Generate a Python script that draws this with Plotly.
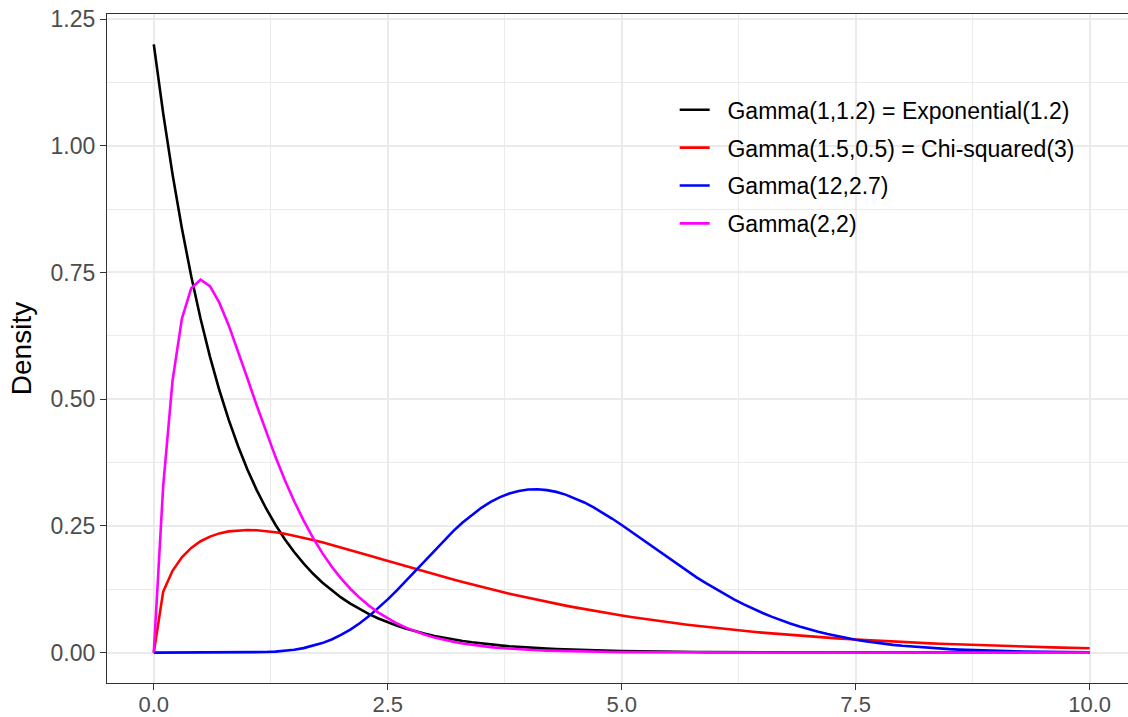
import plotly.graph_objects as go

# Evaluation grid 0.0, 0.1, ..., 10.0
x_vals = [round(i * 0.1, 1) for i in range(101)]

# Gamma(1,1.2) = Exponential(1.2)
dens_exp = [1.2000, 1.0643, 0.9440, 0.8372, 0.7425, 0.6586, 0.5841, 0.5181, 0.4595, 0.4075,
            0.3614, 0.3206, 0.2843, 0.2522, 0.2237, 0.1984, 0.1759, 0.1560, 0.1384, 0.1227,
            0.1089, 0.0966, 0.0856, 0.0760, 0.0674, 0.0597, 0.0530, 0.0470, 0.0417, 0.0370,
            0.0328, 0.0291, 0.0258, 0.0229, 0.0203, 0.0180, 0.0160, 0.0142, 0.0126, 0.0111,
            0.0099, 0.0088, 0.0078, 0.0069, 0.0061, 0.0054, 0.0048, 0.0043, 0.0038, 0.0034,
            0.0030, 0.0026, 0.0023, 0.0021, 0.0018, 0.0016, 0.0014, 0.0013, 0.0011, 0.0010,
            0.0009, 0.0008, 0.0007, 0.0006, 0.0006, 0.0005, 0.0004, 0.0004, 0.0003, 0.0003,
            0.0003, 0.0002, 0.0002, 0.0002, 0.0002, 0.0001, 0.0001, 0.0001, 0.0001, 0.0001,
            0.0001, 0.0, 0.0, 0.0, 0.0, 0.0, 0.0, 0.0, 0.0, 0.0,
            0.0, 0.0, 0.0, 0.0, 0.0, 0.0, 0.0, 0.0, 0.0, 0.0,
            0.0]

# Gamma(1.5,0.5) = Chi-squared(3)
dens_chisq = [0.0, 0.1200, 0.1614, 0.1881, 0.2066, 0.2197, 0.2289, 0.2352, 0.2392, 0.2413,
              0.2420, 0.2414, 0.2398, 0.2375, 0.2344, 0.2308, 0.2267, 0.2223, 0.2176, 0.2127,
              0.2076, 0.2023, 0.1970, 0.1916, 0.1861, 0.1807, 0.1753, 0.1699, 0.1646, 0.1594,
              0.1542, 0.1491, 0.1441, 0.1392, 0.1344, 0.1297, 0.1251, 0.1207, 0.1163, 0.1121,
              0.1080, 0.1040, 0.1001, 0.0964, 0.0927, 0.0892, 0.0858, 0.0825, 0.0793, 0.0762,
              0.0732, 0.0703, 0.0676, 0.0649, 0.0623, 0.0598, 0.0574, 0.0551, 0.0529, 0.0507,
              0.0487, 0.0467, 0.0447, 0.0429, 0.0411, 0.0394, 0.0378, 0.0362, 0.0347, 0.0333,
              0.0319, 0.0305, 0.0292, 0.0280, 0.0268, 0.0257, 0.0246, 0.0236, 0.0226, 0.0216,
              0.0207, 0.0198, 0.0189, 0.0181, 0.0173, 0.0166, 0.0159, 0.0152, 0.0145, 0.0139,
              0.0133, 0.0127, 0.0122, 0.0116, 0.0111, 0.0106, 0.0102, 0.0097, 0.0093, 0.0089,
              0.0085]

# Gamma(12,2.7)
dens_g12 = [0.0, 0.0, 0.0, 0.0, 0.0, 0.0, 0.0, 0.0, 0.0, 0.0001,
            0.0003, 0.0006, 0.0011, 0.0020, 0.0035, 0.0057, 0.0088, 0.0131, 0.0187, 0.0259,
            0.0348, 0.0454, 0.0578, 0.0720, 0.0877, 0.1050, 0.1234, 0.1426, 0.1624, 0.1824,
            0.2022, 0.2214, 0.2396, 0.2566, 0.2720, 0.2857, 0.2973, 0.3068, 0.3140, 0.3190,
            0.3217, 0.3222, 0.3206, 0.3171, 0.3117, 0.3047, 0.2962, 0.2865, 0.2757, 0.2640,
            0.2517, 0.2389, 0.2258, 0.2126, 0.1993, 0.1862, 0.1733, 0.1607, 0.1485, 0.1369,
            0.1257, 0.1151, 0.1050, 0.0956, 0.0868, 0.0786, 0.0710, 0.0639, 0.0574, 0.0515,
            0.0460, 0.0411, 0.0366, 0.0325, 0.0288, 0.0255, 0.0225, 0.0198, 0.0175, 0.0153,
            0.0134, 0.0118, 0.0103, 0.0090, 0.0078, 0.0068, 0.0059, 0.0051, 0.0044, 0.0038,
            0.0033, 0.0028, 0.0024, 0.0021, 0.0018, 0.0016, 0.0013, 0.0011, 0.0010, 0.0008,
            0.0007]

# Gamma(2,2)
dens_g22 = [0.0, 0.3275, 0.5363, 0.6586, 0.7189, 0.7358, 0.7229, 0.6905, 0.6461, 0.5951,
            0.5413, 0.4875, 0.4354, 0.3862, 0.3405, 0.2987, 0.2609, 0.2269, 0.1967, 0.1700,
            0.1465, 0.1260, 0.1080, 0.0925, 0.0790, 0.0674, 0.0574, 0.0488, 0.0414, 0.0351,
            0.0297, 0.0252, 0.0213, 0.0180, 0.0151, 0.0128, 0.0108, 0.0090, 0.0076, 0.0064,
            0.0054, 0.0045, 0.0038, 0.0032, 0.0027, 0.0022, 0.0019, 0.0016, 0.0013, 0.0011,
            0.0009, 0.0008, 0.0006, 0.0005, 0.0004, 0.0004, 0.0003, 0.0003, 0.0002, 0.0002,
            0.0001, 0.0001, 0.0001, 0.0001, 0.0001, 0.0001, 0.0, 0.0, 0.0, 0.0,
            0.0, 0.0, 0.0, 0.0, 0.0, 0.0, 0.0, 0.0, 0.0, 0.0,
            0.0, 0.0, 0.0, 0.0, 0.0, 0.0, 0.0, 0.0, 0.0, 0.0,
            0.0, 0.0, 0.0, 0.0, 0.0, 0.0, 0.0, 0.0, 0.0, 0.0,
            0.0]

series_names = ["Gamma(1,1.2) = Exponential(1.2)",
                "Gamma(1.5,0.5) = Chi-squared(3)",
                "Gamma(12,2.7)",
                "Gamma(2,2)"]
series_values = [dens_exp, dens_chisq, dens_g12, dens_g22]
series_colors = ["#000000", "#FF0000", "#0000FF", "#FF00FF"]

x_ticks = [0, 2.5, 5, 7.5, 10]
x_tick_labels = ["0.0", "2.5", "5.0", "7.5", "10.0"]
y_ticks = [0, 0.25, 0.5, 0.75, 1.0, 1.25]
y_tick_labels = ["0.00", "0.25", "0.50", "0.75", "1.00", "1.25"]

FONT = "Liberation Sans, Arial, sans-serif"
GRID = "#EBEBEB"
AXIS = "#333333"
PAD = "\u00a0\u00a0"  # gap between legend key and its label

fig = go.Figure()
for i, (name, vals, col) in enumerate(zip(series_names, series_values, series_colors)):
    fig.add_trace(go.Scatter(
        x=x_vals, y=vals, mode="lines", name=PAD + name,
        line=dict(color=col, width=2.6),
        legendgroup=f"g{i}",
    ))

fig.update_layout(
    width=1128, height=717,
    margin=dict(l=107, r=0, t=14, b=34, autoexpand=False),
    paper_bgcolor="white", plot_bgcolor="white",
    font=dict(family=FONT, color="black"),
    showlegend=True,
    legend=dict(
        x=0.556, y=0.889, xanchor="left", yanchor="top",
        bgcolor="rgba(255,255,255,0)",
        font=dict(size=23, color="black"),
        tracegroupgap=5,
        itemwidth=30,
    ),
)

fig.update_xaxes(
    range=[-0.5, 10.41], automargin=False,
    tickmode="array", tickvals=x_ticks, ticktext=x_tick_labels,
    tickfont=dict(size=22, color="#4D4D4D"),
    ticks="outside", ticklen=6, tickwidth=1.1, tickcolor=AXIS,
    ticklabelstandoff=-4,
    showline=True, linecolor=AXIS, linewidth=1.1, mirror=True,
    showgrid=True, gridcolor=GRID, gridwidth=1.6,
    minor=dict(tickvals=[1.25, 3.75, 6.25, 8.75], showgrid=True,
               gridcolor=GRID, gridwidth=0.8, ticks=""),
    zeroline=False,
)
fig.update_yaxes(
    range=[-0.06, 1.26], automargin=False,
    tickmode="array", tickvals=y_ticks, ticktext=y_tick_labels,
    tickfont=dict(size=23, color="#4D4D4D"),
    ticks="outside", ticklen=6, tickwidth=1.1, tickcolor=AXIS,
    showline=True, linecolor=AXIS, linewidth=1.1, mirror=False,
    showgrid=True, gridcolor=GRID, gridwidth=1.6,
    minor=dict(tickvals=[0.125, 0.375, 0.625, 0.875, 1.125], showgrid=True,
               gridcolor=GRID, gridwidth=0.8, ticks=""),
    zeroline=False,
    title=dict(text="Density", font=dict(size=28, color="black"), standoff=10),
)

fig.write_html("out.html")
